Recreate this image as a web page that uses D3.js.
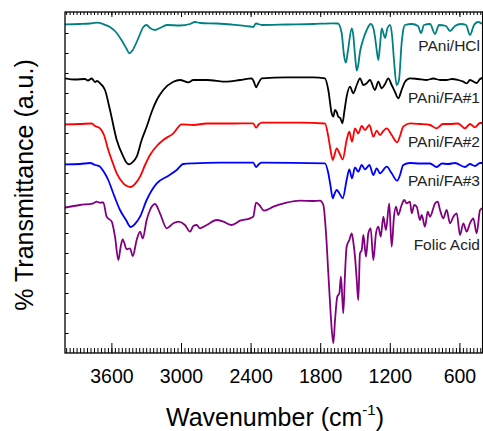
<!DOCTYPE html>
<html>
<head>
<meta charset="utf-8">
<script src="https://cdn.jsdelivr.net/npm/d3@7"></script>
<style>
body { margin: 0; background: #fff; }
text { font-family: Arial, "Liberation Sans", sans-serif; }
.line { fill: none; stroke-width: 1.8; stroke-linejoin: round; }
.tick line { stroke: #000; stroke-width: 1; }
</style>
</head>
<body>
<svg width="483" height="431"></svg>
<script>
// [wavenumber (cm-1), transmittance (a.u., offset stacked)]
var paniHCl = [[4000,32.87],[3871,32.9],[3784,32.95],[3724,33.03],[3672,32.9],[3612,32.6],[3554,32.0],
  [3503,31.1],[3468,30.4],[3446,29.97],[3416,30.3],[3382,31.1],[3353,31.9],[3325,32.6],[3296,32.8],
  [3267,32.5],[3224,32.3],[3181,32.5],[3121,32.8],[3009,32.75],[2922,32.9],[2879,33.1],[2836,33.0],
  [2692,32.95],[2563,32.85],[2405,32.65],[2379,32.6],[2353,32.95],[2304,32.8],[2089,32.85],[1860,32.9],
  [1690,32.97],[1647,32.95],[1615,32.0],[1595,29.8],[1578,29.03],[1560,30.3],[1528,32.47],[1515,31.8],
  [1500,29.8],[1485,28.23],[1472,28.8],[1457,30.1],[1431,31.3],[1399,32.3],[1365,32.9],[1342,32.5],
  [1328,31.63],[1313,30.3],[1299,29.3],[1284,30.8],[1270,32.47],[1256,32.0],[1241,31.5],[1220,32.5],
  [1198,32.8],[1181,31.8],[1164,29.3],[1141,26.8],[1121,27.3],[1098,31.0],[1084,32.3],[1069,32.8],
  [1009,32.9],[957,32.7],[931,32.0],[905,32.8],[853,32.9],[810,31.9],[776,32.8],[716,32.7],[681,32.2],
  [638,32.7],[586,32.9],[543,32.8],[509,31.8],[474,32.8],[440,33.1],[400,32.9]];

var paniFA1 = [[4000,27.47],[3914,27.35],[3828,27.4],[3802,27.25],[3770,27.45],[3741,27.1],[3724,27.2],
  [3698,26.97],[3655,26.3],[3612,24.3],[3554,21.3],[3497,19.63],[3474,19.1],[3446,18.87],[3416,19.1],
  [3382,19.63],[3339,21.3],[3296,22.63],[3253,24.1],[3209,25.3],[3153,26.3],[3066,27.13],[3009,27.3],
  [2937,27.07],[2894,27.3],[2778,27.3],[2606,27.13],[2491,27.3],[2390,27.47],[2371,27.1],[2353,26.57],
  [2332,27.0],[2304,27.47],[2089,27.57],[1860,27.57],[1759,27.47],[1730,26.3],[1701,23.97],[1687,23.63],
  [1672,24.3],[1658,24.1],[1644,23.63],[1627,23.5],[1609,22.97],[1590,24.3],[1572,25.63],[1543,26.63],
  [1515,25.97],[1485,26.8],[1457,27.47],[1428,26.8],[1399,26.97],[1371,27.3],[1328,26.3],[1299,27.13],
  [1270,26.47],[1241,26.9],[1213,27.47],[1184,26.8],[1155,26.1],[1127,25.47],[1098,26.3],[1069,27.13],
  [1026,27.47],[957,27.4],[882,27.3],[825,27.45],[767,27.3],[710,27.3],[664,27.4],[612,27.3],[566,27.13],
  [537,26.97],[509,27.3],[451,27.0],[422,27.4],[400,27.5]];

var paniFA2 = [[4000,22.87],[3871,22.9],[3770,22.95],[3741,22.7],[3698,22.47],[3664,21.8],[3627,20.3],
  [3591,19.1],[3554,17.97],[3497,16.97],[3466,16.7],[3434,16.6],[3397,16.9],[3353,17.63],[3310,18.8],
  [3267,19.8],[3209,20.7],[3153,21.3],[3066,21.97],[2994,22.87],[2894,22.8],[2778,22.95],[2563,22.95],
  [2377,22.97],[2353,22.53],[2327,22.9],[2302,23.03],[1974,23.03],[1759,22.95],[1730,21.63],[1711,20.3],
  [1692,19.3],[1677,19.8],[1658,20.47],[1635,20.0],[1606,19.37],[1572,21.3],[1549,22.13],[1526,21.13],
  [1500,22.47],[1472,21.97],[1442,22.7],[1414,22.3],[1376,22.8],[1342,21.63],[1313,22.23],[1284,21.8],
  [1256,22.2],[1227,22.47],[1184,21.8],[1136,21.07],[1112,21.7],[1084,22.63],[1026,22.97],[940,22.9],
  [853,22.8],[796,22.47],[742,22.9],[681,22.9],[612,22.95],[552,22.47],[509,22.9],[466,22.57],
  [422,23.0],[400,23.0]];

var paniFA3 = [[4000,18.87],[3871,18.9],[3784,19.0],[3741,18.8],[3698,18.63],[3664,18.1],[3627,17.3],
  [3584,15.97],[3526,14.3],[3474,13.3],[3434,12.6],[3397,12.9],[3353,13.63],[3296,15.3],[3209,16.97],
  [3123,17.63],[3037,18.3],[2980,18.9],[2894,18.97],[2664,19.03],[2377,19.03],[2353,18.6],[2327,18.9],
  [2302,19.03],[1759,18.97],[1730,17.97],[1711,16.7],[1692,15.47],[1677,15.9],[1658,16.3],[1635,15.97],
  [1606,15.47],[1572,17.3],[1549,18.37],[1526,17.47],[1500,18.57],[1472,18.13],[1442,18.8],[1414,18.37],
  [1376,18.8],[1342,17.8],[1313,18.47],[1284,17.97],[1227,18.63],[1184,17.97],[1136,17.23],[1112,17.8],
  [1084,18.8],[1026,19.0],[940,18.95],[853,18.95],[796,18.6],[750,18.95],[698,18.9],[638,19.0],
  [552,18.6],[509,18.9],[466,18.7],[422,19.0],[400,19.0]];

var folicAcid = [[4000,14.55],[3871,14.8],[3756,14.97],[3727,15.13],[3698,15.03],[3670,15.07],[3641,13.63],
  [3597,13.13],[3569,11.63],[3540,9.3],[3520,10.63],[3503,11.37],[3468,10.37],[3440,10.47],[3416,9.7],
  [3382,11.3],[3353,12.13],[3330,11.47],[3296,13.3],[3267,14.3],[3224,14.9],[3181,13.97],[3123,12.47],
  [3066,12.97],[3023,13.13],[2966,12.8],[2922,12.13],[2894,12.7],[2865,12.8],[2836,12.47],[2778,12.8],
  [2692,13.3],[2635,13.13],[2563,12.8],[2491,13.23],[2405,13.47],[2377,13.63],[2353,15.03],[2325,14.8],
  [2284,14.23],[2204,14.63],[2089,15.03],[1974,15.23],[1860,15.2],[1802,15.23],[1773,14.8],[1750,12.0],
  [1730,7.97],[1710,3.97],[1687,0.97],[1672,3.3],[1653,5.63],[1635,5.97],[1621,7.63],[1601,3.97],
  [1586,7.97],[1572,10.63],[1549,11.3],[1528,11.97],[1515,11.13],[1500,9.63],[1485,7.3],[1472,5.3],
  [1457,9.97],[1442,10.3],[1428,11.8],[1405,9.63],[1385,11.97],[1365,12.47],[1342,9.3],[1319,11.97],
  [1299,12.63],[1278,11.63],[1256,13.63],[1233,12.3],[1205,14.97],[1184,10.63],[1164,13.63],[1147,14.63],
  [1127,13.8],[1098,14.8],[1075,15.3],[1055,14.97],[1026,15.13],[1011,13.97],[989,14.8],[968,14.63],
  [940,13.3],[925,13.8],[897,12.63],[873,14.13],[853,13.63],[825,14.47],[810,14.97],[787,15.13],
  [767,14.3],[739,13.47],[710,14.3],[681,12.97],[652,13.63],[623,13.97],[595,11.8],[566,12.97],
  [537,12.13],[509,12.97],[480,13.47],[451,11.97],[422,14.3],[400,14.5]];

var seriesNames = ["PAni/HCl", "PAni/FA#1", "PAni/FA#2", "PAni/FA#3", "Folic Acid"];
var seriesData = [paniHCl, paniFA1, paniFA2, paniFA3, folicAcid];
var seriesColors = ["#008080", "#000000", "#ff0000", "#0000ff", "#800080"];
var labelLevels = [30.2, 25.0, 20.6, 16.7, 10.3];

var majorTicks = [3600, 3000, 2400, 1800, 1200, 600];
var minorTicks = d3.range(420, 4000, 30);

var svg = d3.select("svg"),
    mLeft = 65, mTop = 12, mRight = 482.6, mBottom = 353;

var x = d3.scaleLinear().domain([4000, 400]).range([mLeft, mRight]);
var y = d3.scaleLinear().domain([0, 34.1]).range([mBottom, mTop]);

svg.append("clipPath").attr("id", "plot")
  .append("rect")
    .attr("x", mLeft).attr("y", mTop)
    .attr("width", mRight - mLeft).attr("height", mBottom - mTop);

var line = d3.line()
    .x(function(d) { return x(d[0]); })
    .y(function(d) { return y(d[1]); })
    .curve(d3.curveMonotoneX);

svg.append("g")
    .attr("clip-path", "url(#plot)")
  .selectAll("path")
  .data(seriesData)
  .enter().append("path")
    .attr("class", "line")
    .attr("d", line)
    .attr("stroke", function(d, i) { return seriesColors[i]; });

// bottom axis, ticks pointing in
svg.append("g")
    .attr("transform", "translate(0," + mBottom + ")")
    .call(d3.axisBottom(x).tickValues(minorTicks).tickSize(-5).tickFormat(""));

svg.append("g")
    .attr("class", "xaxis")
    .attr("transform", "translate(0," + mBottom + ")")
    .call(d3.axisBottom(x).tickValues(majorTicks).tickSize(-10).tickPadding(16).tickFormat(d3.format("d")));

// top axis
svg.append("g")
    .attr("transform", "translate(0," + mTop + ")")
    .call(d3.axisTop(x).tickValues(minorTicks).tickSize(-3).tickFormat(""));

svg.append("g")
    .attr("transform", "translate(0," + mTop + ")")
    .call(d3.axisTop(x).tickValues(majorTicks).tickSize(-5).tickFormat(""));

// left axis, no labels
svg.append("g")
    .attr("transform", "translate(" + mLeft + ",0)")
    .call(d3.axisLeft(y).tickValues(d3.range(2, 34, 2)).tickSize(-3.5).tickFormat(""));

svg.selectAll(".domain").remove();

svg.select(".xaxis")
    .attr("font-size", 19.5)
    .attr("font-family", "Arial, 'Liberation Sans', sans-serif");
svg.selectAll(".xaxis text").attr("fill", "#000");

svg.append("rect")
    .attr("x", mLeft).attr("y", mTop)
    .attr("width", mRight - mLeft).attr("height", mBottom - mTop)
    .attr("fill", "none")
    .attr("stroke", "#000")
    .attr("stroke-width", 1.3);

svg.selectAll(".label")
  .data(seriesNames)
  .enter().append("text")
    .attr("class", "label")
    .attr("x", 480)
    .attr("y", function(d, i) { return y(labelLevels[i]); })
    .attr("text-anchor", "end")
    .attr("font-size", "15.5px")
    .attr("fill", "#222")
    .text(function(d) { return d; });

svg.append("text")
    .attr("transform", "translate(33,185) rotate(-90)")
    .attr("text-anchor", "middle")
    .attr("font-size", "25px")
    .text("% Transmittance (a.u.)");

var xt = svg.append("text")
    .attr("x", 275)
    .attr("y", 426)
    .attr("text-anchor", "middle")
    .attr("font-size", "25px");
xt.append("tspan").text("Wavenumber (cm");
xt.append("tspan").attr("font-size", "15px").attr("dy", -11).text("-1");
xt.append("tspan").attr("dy", 11).text(")");
</script>
</body>
</html>
